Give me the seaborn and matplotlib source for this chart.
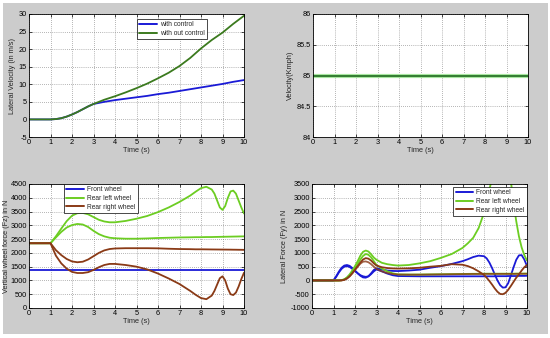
import numpy as np
import pandas as pd
import matplotlib
matplotlib.use("Agg")
import matplotlib.pyplot as plt
from matplotlib.patches import Rectangle
import seaborn as sns

# ---------------- data ----------------
t_vel = [0, 0.5, 1, 1.25, 1.5, 1.75, 2, 2.25, 2.5, 2.75, 3, 3.5, 4, 4.5, 5, 5.5,
         6, 6.5, 7, 7.5, 8, 8.5, 9, 9.5, 10]
vel_ctrl = [0, 0, 0, 0.1, 0.35, 0.8, 1.4, 2.1, 2.9, 3.7, 4.4, 5.0, 5.5, 5.9, 6.3,
            6.7, 7.2, 7.6, 8.1, 8.6, 9.1, 9.6, 10.1, 10.7, 11.2]
vel_noctrl = [0, 0, 0, 0.1, 0.35, 0.8, 1.4, 2.1, 2.9, 3.7, 4.4, 5.6, 6.6, 7.7, 8.9,
              10.2, 11.7, 13.3, 15.2, 17.5, 20.2, 22.6, 24.7, 27.2, 29.5]

t_speed = [0, 10]
speed = [85, 85]

t_fz = [0, 0.5, 1, 1.25, 1.5, 1.75, 2, 2.25, 2.5, 2.75, 3, 3.25, 3.5, 3.75, 4,
        4.5, 5, 5.5, 6, 6.5, 7, 7.5, 7.75, 8, 8.25, 8.5, 8.625, 8.75, 8.875, 9,
        9.125, 9.25, 9.375, 9.5, 9.625, 9.75, 9.875, 10]
fz_front = [1380] * 38
fz_left_a = [2350, 2350, 2350, 2600, 2880, 3150, 3350, 3440, 3450, 3400, 3300, 3200,
             3140, 3110, 3110, 3160, 3240, 3340, 3480, 3650, 3850, 4080, 4220, 4350,
             4400, 4300, 4150, 3900, 3650, 3560, 3700, 4000, 4230, 4260, 4150, 3900,
             3650, 3430]
fz_left_b = [2350, 2350, 2350, 2560, 2760, 2920, 3010, 3050, 3030, 2940, 2800, 2680,
             2600, 2550, 2530, 2515, 2515, 2525, 2540, 2550, 2560, 2565, 2570, 2570,
             2575, 2575, 2578, 2580, 2582, 2584, 2586, 2588, 2590, 2592, 2594, 2596,
             2598, 2600]
fz_right_a = [2350, 2350, 2350, 2100, 1920, 1780, 1690, 1660, 1680, 1760, 1880, 2000,
              2090, 2140, 2160, 2170, 2170, 2170, 2165, 2150, 2140, 2135, 2130, 2130,
              2128, 2125, 2124, 2123, 2122, 2121, 2120, 2119, 2118, 2116, 2115, 2113,
              2112, 2110]
fz_right_b = [2350, 2350, 2350, 1900, 1620, 1430, 1310, 1270, 1270, 1300, 1380, 1480,
              1560, 1600, 1600, 1560, 1500, 1400, 1250, 1070, 870, 620, 480, 360,
              320, 450, 620, 850, 1080, 1150, 1000, 700, 500, 470, 560, 780,
              1050, 1280]

t_fy = [0, 0.5, 1, 1.125, 1.25, 1.375, 1.5, 1.625, 1.75, 1.875, 2, 2.125, 2.25,
        2.375, 2.5, 2.625, 2.75, 2.875, 3, 3.25, 3.5, 3.75, 4, 4.5, 5, 5.5, 6, 6.5,
        7, 7.25, 7.5, 7.75, 8, 8.125, 8.25, 8.375, 8.5, 8.625, 8.75, 8.875, 9,
        9.125, 9.25, 9.375, 9.5, 9.625, 9.75, 9.875, 10]
fy_front_a = [0, 0, 0, 150, 320, 460, 540, 560, 530, 450, 360, 260, 170, 110, 100,
              150, 260, 380, 440, 400, 360, 345, 340, 360, 390, 460, 520, 600, 700,
              770, 850, 900, 880, 800, 650, 450, 220, 0, -170, -260, -250, -100, 180,
              480, 750, 910, 920, 760, 520]
fy_front_b = [0, 0, 0, 130, 290, 420, 500, 520, 490, 420, 340, 260, 190, 150, 130,
              150, 230, 330, 400, 330, 250, 190, 160, 155, 150, 150, 150, 150, 150,
              150, 150, 150, 150, 150, 150, 150, 150, 155, 155, 155, 155, 160, 160,
              160, 160, 165, 165, 165, 170]
fy_left_a = [0, 0, 0, 0, 0, 10, 40, 110, 220, 360, 520, 700, 900, 1040, 1085, 1050,
             950, 830, 750, 640, 590, 560, 540, 560, 620, 700, 820, 960, 1180, 1350,
             1550, 1900, 2450, 2850, 3300, 3700, 4000, 4200, 4300, 4300, 4200, 4000,
             3600, 2800, 2150, 1600, 1200, 920, 720]
fy_left_b = [0, 0, 0, 0, 0, 10, 40, 100, 190, 310, 450, 600, 760, 890, 960, 930, 840,
             700, 560, 430, 330, 260, 220, 215, 215, 220, 225, 230, 235, 238, 240,
             242, 245, 245, 245, 245, 245, 245, 245, 245, 245, 245, 245, 245, 248,
             248, 248, 250, 250]
fy_right_a = [0, 0, 0, 0, 0, 0, 20, 70, 150, 260, 390, 520, 650, 760, 810, 790, 720,
              620, 540, 480, 450, 435, 430, 440, 460, 500, 530, 590, 570, 520, 440,
              330, 200, 100, -20, -150, -290, -410, -490, -500, -450, -340, -200, -50,
              100, 220, 360, 480, 560]
fy_right_b = [0, 0, 0, 0, 0, 5, 25, 70, 150, 260, 380, 500, 610, 680, 690, 660, 590,
              500, 420, 330, 270, 235, 215, 210, 210, 215, 220, 225, 230, 232, 235,
              235, 238, 238, 238, 238, 238, 238, 238, 238, 238, 238, 238, 238, 240,
              240, 240, 242, 242]

x_ticks = list(range(0, 11))

# ---------------- style ----------------
sns.set_style("white")
plt.rcParams["font.family"] = ["Liberation Sans", "DejaVu Sans"]
plt.rcParams["axes.unicode_minus"] = False

FS = 5.3
LFS = 4.8
BLUE = "#1a1ad6"
DGREEN = "#3b7a1e"
LGREEN = "#6ccd22"
BROWN = "#8a3a16"
VGREEN = "#1f6a1f"
GRAY = "#cccccc"

fig = plt.figure(figsize=(5.5, 3.38), dpi=100, facecolor="white")
fig.patches.append(Rectangle((3 / 550, 4 / 338), 545 / 550, 331 / 338,
                             transform=fig.transFigure, facecolor=GRAY,
                             edgecolor="none", zorder=-10))

W = 215 / 550
ax1 = fig.add_axes([29 / 550, 1 - 137 / 338, W, 123 / 338])
ax2 = fig.add_axes([313 / 550, 1 - 137 / 338, W, 123 / 338])
ax3 = fig.add_axes([29 / 550, 1 - 308 / 338, W, 124 / 338])
ax4 = fig.add_axes([312 / 550, 1 - 308 / 338, W, 124 / 338])


def style(ax, ylim, yticks, ylabel, yticklabels=None, ylabelpad=2):
    ax.set_facecolor("white")
    ax.set_xlim(0, 10)
    ax.set_ylim(*ylim)
    ax.set_xticks(x_ticks)
    ax.set_xticklabels([str(v) for v in x_ticks])
    ax.set_yticks(yticks)
    if yticklabels is None:
        yticklabels = [str(v) for v in yticks]
    ax.set_yticklabels(yticklabels)
    ax.grid(True, color="#707070", linestyle=(0, (1, 2)), linewidth=0.5)
    ax.tick_params(direction="in", length=2, width=0.5, labelsize=FS, pad=1.5,
                   top=True, right=True, bottom=True, left=True, colors="black")
    for s in ax.spines.values():
        s.set_visible(True)
        s.set_color("black")
        s.set_linewidth(0.6)
    ax.set_xlabel("Time (s)", fontsize=FS, labelpad=1)
    ax.set_ylabel(ylabel, fontsize=FS, labelpad=ylabelpad)


def make_legend(ax, loc, anchor):
    leg = ax.legend(loc=loc, bbox_to_anchor=anchor, fontsize=LFS, frameon=True,
                    fancybox=False, handlelength=2.6, borderpad=0.35,
                    labelspacing=0.25, handletextpad=0.5, borderaxespad=0)
    leg.get_frame().set_edgecolor("black")
    leg.get_frame().set_linewidth(0.5)
    leg.get_frame().set_alpha(1)
    for line in leg.get_lines():
        line.set_linewidth(1.4)


# ---- top left ----
sns.lineplot(x=t_vel, y=vel_ctrl, ax=ax1, color=BLUE, linewidth=1.3,
             label="with control")
sns.lineplot(x=t_vel, y=vel_noctrl, ax=ax1, color=DGREEN, linewidth=1.3,
             label="with out control")
style(ax1, (-5, 30), list(range(-5, 31, 5)), "Lateral Velocity (in m/s)")
make_legend(ax1, "upper right", (0.828, 0.96))

# ---- top right ----
sns.lineplot(x=t_speed, y=speed, ax=ax2, color="#a8e6a0", linewidth=3.0)
sns.lineplot(x=t_speed, y=speed, ax=ax2, color=VGREEN, linewidth=1.2)
style(ax2, (84, 86), [84, 84.5, 85, 85.5, 86], "Velocity(Kmph)",
      ["84", "84.5", "85", "85.5", "86"])

# ---- bottom left ----
sns.lineplot(x=t_fz, y=fz_front, ax=ax3, color=BLUE, linewidth=1.3,
             label="Front wheel")
sns.lineplot(x=t_fz, y=fz_left_a, ax=ax3, color=LGREEN, linewidth=1.3,
             label="Rear left wheel")
sns.lineplot(x=t_fz, y=fz_left_b, ax=ax3, color=LGREEN, linewidth=1.3)
sns.lineplot(x=t_fz, y=fz_right_a, ax=ax3, color=BROWN, linewidth=1.3,
             label="Rear right wheel")
sns.lineplot(x=t_fz, y=fz_right_b, ax=ax3, color=BROWN, linewidth=1.3)
style(ax3, (0, 4500), list(range(0, 4501, 500)), "Vertical wheel force (Fz) in N",
      ylabelpad=0.5)
make_legend(ax3, "upper left", (0.163, 1.0))

# ---- bottom right ----
sns.lineplot(x=t_fy, y=fy_front_a, ax=ax4, color=BLUE, linewidth=1.3,
             label="Front wheel")
sns.lineplot(x=t_fy, y=fy_front_b, ax=ax4, color=BLUE, linewidth=1.3)
sns.lineplot(x=t_fy, y=fy_left_a, ax=ax4, color=LGREEN, linewidth=1.3,
             label="Rear left wheel")
sns.lineplot(x=t_fy, y=fy_left_b, ax=ax4, color=LGREEN, linewidth=1.3)
sns.lineplot(x=t_fy, y=fy_right_a, ax=ax4, color=BROWN, linewidth=1.3,
             label="Rear right wheel")
sns.lineplot(x=t_fy, y=fy_right_b, ax=ax4, color=BROWN, linewidth=1.3, alpha=0.8)
style(ax4, (-1000, 3500), list(range(-1000, 3501, 500)), "Lateral Force (Fy) in N")
make_legend(ax4, "upper right", (1.0, 0.975))

fig.savefig("out.png", dpi=100, facecolor="white")
